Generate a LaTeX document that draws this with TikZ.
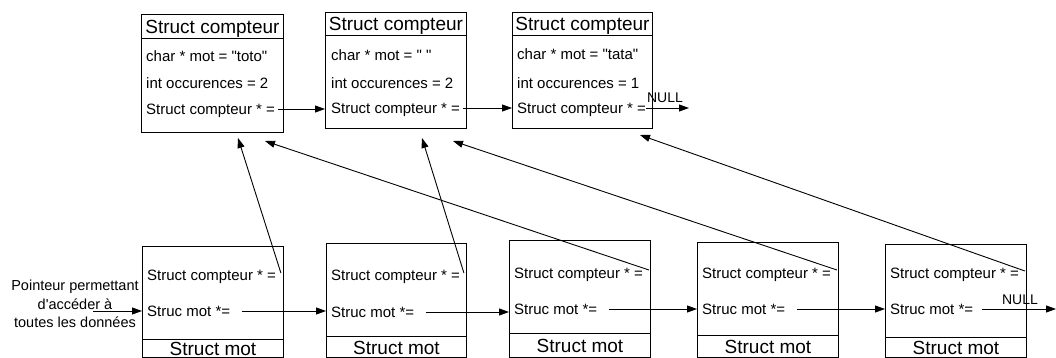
\documentclass[tikz,border=0pt]{standalone}
\usepackage{fontspec}
\setmainfont{Liberation Sans}[Ligatures=TeXOff]
\usetikzlibrary{arrows.meta,calc}
\begin{document}
\begin{tikzpicture}[x=1pt,y=-1pt,
  box/.style={draw, line width=0.9pt, inner sep=0pt, anchor=north west},
  field/.style={anchor=west, inner sep=0pt, font=\fontsize{15}{18}\selectfont, text height=11pt, text depth=0pt},
  titletxt/.style={inner sep=0pt, font=\fontsize{19}{22}\selectfont, text height=14pt, text depth=0pt},
  nulltxt/.style={inner sep=0pt, font=\fontsize{14}{16}\selectfont},
  sidetxt/.style={inner sep=0pt, align=center, font=\fontsize{14.5}{18.5}\selectfont},
  arr/.style={-{Triangle[length=10pt,width=7pt]}, line width=0.9pt},
  sep/.style={line width=0.9pt}
]
\useasboundingbox (0,0) rectangle (1056,358);

% ---------- top boxes (Struct compteur) ----------
\node[box, minimum width=142pt, minimum height=118pt] (c1) at (141,14) {};
\draw[sep] ($(c1.north west)+(0,24)$) -- ($(c1.north east)+(0,24)$);
\node[titletxt] (c1t) at ($(c1.north)+(0,13)$) {Struct compteur};
\node[field] (c1a) at (146,56) {char * mot = "toto"};
\node[field] (c1b) at (146,83) {int occurences = 2};
\node[field] (c1p) at (146,109) {Struct compteur * =};

\node[box, minimum width=141pt, minimum height=116pt] (c2) at (325,12) {};
\draw[sep] ($(c2.north west)+(0,23)$) -- ($(c2.north east)+(0,23)$);
\node[titletxt] (c2t) at ($(c2.north)+(0,12)$) {Struct compteur};
\node[field] (c2a) at (331,55) {char * mot = " "};
\node[field] (c2b) at (331,83) {int occurences = 2};
\node[field] (c2p) at (331,108) {Struct compteur * =};

\node[box, minimum width=140pt, minimum height=116pt] (c3) at (512,12) {};
\draw[sep] ($(c3.north west)+(0,23)$) -- ($(c3.north east)+(0,23)$);
\node[titletxt] (c3t) at ($(c3.north)+(0,12)$) {Struct compteur};
\node[field] (c3a) at (517,54) {char * mot = "tata"};
\node[field] (c3b) at (517,83) {int occurences = 1};
\node[field] (c3p) at (517,108) {Struct compteur * =};

\draw[arr] ($(c1p.east)+(3,0)$) -- (c2.west |- c1p.east);
\draw[arr] ($(c2p.east)+(3,0)$) -- (c3.west |- c2p.east);
\coordinate (null1) at (689,108);
\draw[arr] (c3p.east) -- (null1);
\node[nulltxt] (n1) at (665,98) {NULL};

% ---------- bottom boxes (Struct mot) ----------
\node[box, minimum width=141pt, minimum height=111pt] (m1) at (142,246) {};
\draw[sep] ($(m1.north west)+(0,93)$) -- ($(m1.north east)+(0,93)$);
\node[titletxt] (m1t) at ($(m1.north)+(0,102)$) {Struct mot};
\node[field] (m1p) at (147,275) {Struct compteur * =};
\node[field] (m1m) at (147,311) {Struc mot *=};

\node[box, minimum width=140pt, minimum height=114pt] (m2) at (326,243) {};
\draw[sep] ($(m2.north west)+(0,93)$) -- ($(m2.north east)+(0,93)$);
\node[titletxt] (m2t) at ($(m2.north)+(0,104)$) {Struct mot};
\node[field] (m2p) at (331,275) {Struct compteur * =};
\node[field] (m2m) at (331,312) {Struc mot *=};

\node[box, minimum width=141pt, minimum height=117pt] (m3) at (509,240) {};
\draw[sep] ($(m3.north west)+(0,93)$) -- ($(m3.north east)+(0,93)$);
\node[titletxt] (m3t) at ($(m3.north)+(0,105)$) {Struct mot};
\node[field] (m3p) at (514,273) {Struct compteur * =};
\node[field] (m3m) at (514,309) {Struc mot *=};

\node[box, minimum width=141pt, minimum height=115pt] (m4) at (697,242) {};
\draw[sep] ($(m4.north west)+(0,93)$) -- ($(m4.north east)+(0,93)$);
\node[titletxt] (m4t) at ($(m4.north)+(0,104)$) {Struct mot};
\node[field] (m4p) at (702,273) {Struct compteur * =};
\node[field] (m4m) at (702,309) {Struc mot *=};

\node[box, minimum width=141pt, minimum height=113pt] (m5) at (885,244) {};
\draw[sep] ($(m5.north west)+(0,93)$) -- ($(m5.north east)+(0,93)$);
\node[titletxt] (m5t) at ($(m5.north)+(0,103)$) {Struct mot};
\node[field] (m5p) at (890,273) {Struct compteur * =};
\node[field] (m5m) at (890,309) {Struc mot *=};

% left pointer
\node[sidetxt] (ptr) at (75,304) {Pointeur permettant\\d'accéder à\\toutes les données};
\coordinate (ptrstart) at (93,311);
\draw[arr] (ptrstart) -- (m1.west |- m1m.east);

% horizontal links between Struct mot
\draw[arr] ($(m1m.east)+(12,0)$) -- (m2.west |- m1m.east);
\draw[arr] ($(m2m.east)+(12,0)$) -- (m3.west |- m2m.east);
\draw[arr] ($(m3m.east)+(12,0)$) -- (m4.west |- m3m.east);
\draw[arr] ($(m4m.east)+(12,0)$) -- (m5.west |- m4m.east);
\coordinate (null2) at (1056,309);
\draw[arr] ($(m5m.east)+(9,0)$) -- (null2);
\node[nulltxt] (n2) at (1020,300) {NULL};

% diagonal links to Struct compteur
\coordinate (t1) at (238,138);
\coordinate (t2) at (422,138);
\coordinate (t3) at (265,141);
\coordinate (t4) at (453,141);
\coordinate (t5) at (640,135);
\draw[arr] ($(m1.east |- m1p.east)+(-3,-2)$) -- (t1);
\draw[arr] ($(m2.east |- m2p.east)+(-3,-2)$) -- (t2);
\draw[arr] ($(m3.east |- m3p.east)+(-2,-3)$) -- (t3);
\draw[arr] ($(m4.east |- m4p.east)+(-2,-3)$) -- (t4);
\draw[arr] ($(m5.east |- m5p.east)+(-2,-2)$) -- (t5);
\end{tikzpicture}
\end{document}
